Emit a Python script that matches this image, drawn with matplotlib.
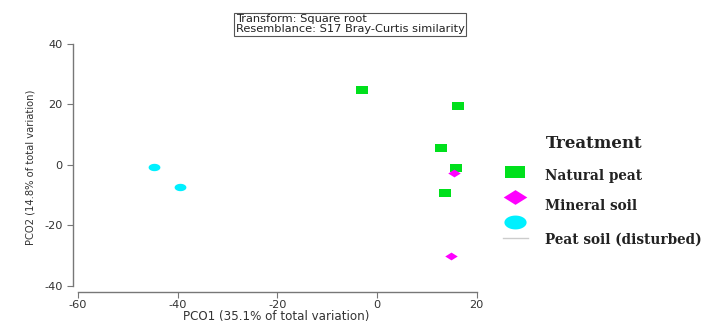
import numpy as np
import matplotlib
matplotlib.use("Agg")
import matplotlib.pyplot as plt
from matplotlib.lines import Line2D
from matplotlib.path import Path

plt.rcParams["axes.unicode_minus"] = False

# PCO scores
peat_x = [-3.0, 16.2, 12.8, 15.8, 13.6]
peat_y = [24.6, 19.3, 5.6, -1.0, -9.2]
mineral_x = [15.4, 14.8]
mineral_y = [-2.8, -30.0]
disturbed_x = [-44.8, -39.6]
disturbed_y = [-0.7, -7.2]

groups = ["Natural peat", "Mineral soil", "Peat soil (disturbed)"]
xticks = [-60, -40, -20, 0, 20]
yticks = [-40, -20, 0, 20, 40]

# the original picture is stretched sideways, so use wide markers
rect = Path([(-1.5, -1), (1.5, -1), (1.5, 1), (-1.5, 1), (-1.5, -1)], closed=True)
diam = Path([(-1.6, 0), (0, 1), (1.6, 0), (0, -1), (-1.6, 0)], closed=True)
t = np.linspace(0, 2 * np.pi, 40)
ell = Path(np.column_stack([1.6 * np.cos(t), np.sin(t)]), closed=True)

GREEN = "#00e01c"
MAGENTA = "#ff00ff"
CYAN = "#00f0ff"


def main():
    fig = plt.figure(figsize=(7.17, 3.23), dpi=100)
    ax = fig.add_axes([0.1018, 0.096, 0.5677, 0.774])

    ax.plot(peat_x, peat_y, marker=rect, color=GREEN, markersize=8, markeredgewidth=0, linestyle="none")
    ax.plot(mineral_x, mineral_y, marker=diam, color=MAGENTA, markersize=9, markeredgewidth=0, linestyle="none")
    ax.plot(disturbed_x, disturbed_y, marker=ell, color=CYAN, markersize=8.5, markeredgewidth=0, linestyle="none")

    ax.set_xlim(-61, 20.7)
    ax.set_ylim(-42, 40.5)
    ax.set_xticks(xticks)
    ax.set_yticks(yticks)
    for s in ["top", "right"]:
        ax.spines[s].set_visible(False)
    ax.spines["left"].set_bounds(-40, 40)
    ax.spines["bottom"].set_bounds(-60, 20)
    for s in ["left", "bottom"]:
        ax.spines[s].set_color("#777777")
        ax.spines[s].set_linewidth(1.0)
    ax.tick_params(direction="out", length=4, color="#777777", labelsize=8.2, labelcolor="#333333")
    ax.tick_params(axis="x", pad=1.5)
    ax.set_xlabel("PCO1 (35.1% of total variation)", fontsize=8.6, color="#333333", labelpad=0)
    ax.set_ylabel("PCO2 (14.8% of total variation)", fontsize=7.2, color="#333333", labelpad=6)

    fig.text(0.329, 0.925, "Transform: Square root\nResemblance: S17 Bray-Curtis similarity",
             fontsize=8.2, color="#222222", va="center", ha="left", linespacing=0.95,
             bbox=dict(boxstyle="square,pad=0.15", fc="white", ec="#555555", lw=0.8))

    # legend drawn by hand, like the original
    fig.text(546 / 717, 1 - 143 / 323, "Treatment", family="DejaVu Serif", fontweight="bold",
             fontsize=12, va="center", ha="left", color="#222222")
    markers = [(rect, GREEN, 14), (diam, MAGENTA, 17), (ell, CYAN, 16)]
    marker_y = [172, 197, 222]
    label_y = [176, 206, 240]
    for (m, c, ms), my, ly, g in zip(markers, marker_y, label_y, groups):
        fig.lines.append(Line2D([515 / 717], [1 - my / 323], marker=m, color=c, markersize=ms,
                                markeredgewidth=0, linestyle="none", transform=fig.transFigure))
        fig.text(545 / 717, 1 - ly / 323, g, family="DejaVu Serif", fontweight="bold",
                 fontsize=9.8, va="center", ha="left", color="#222222")
    fig.lines.append(Line2D([503 / 717, 528 / 717], [1 - 238 / 323] * 2, color="#cccccc", lw=1,
                            transform=fig.transFigure))

    fig.savefig("out.png", dpi=100)


if __name__ == "__main__":
    main()
